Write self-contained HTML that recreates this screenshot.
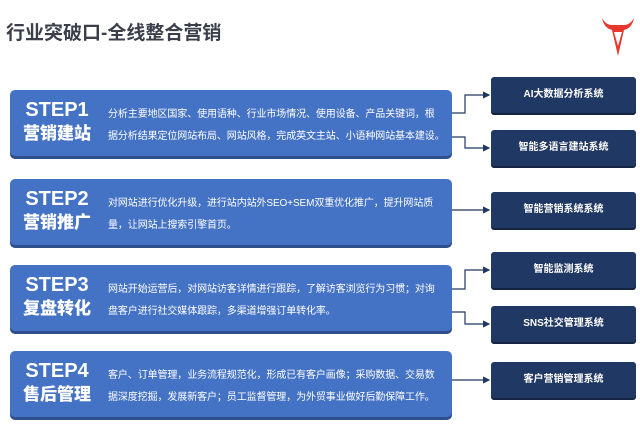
<!DOCTYPE html>
<html><head><meta charset="utf-8"><style>
body{margin:0;width:640px;height:436px;background:#fff;position:relative;overflow:hidden;font-family:"Liberation Sans","Noto Sans CJK SC",sans-serif}
.t{position:absolute;left:6px;top:18px;font-size:19px;font-weight:bold;color:#3a3f4a}
.s{position:absolute;left:10px;width:442px;height:66px;background:#4472c4;border-radius:5px;box-shadow:0 3px 0 #2f4f8c}
.s .h{position:absolute;left:12px;top:8px;width:70px;text-align:center;color:#fff;font-weight:bold;font-size:20px;line-height:24px}
.s .h b{display:block;font-size:17px;line-height:24px}
.s .d{position:absolute;left:98px;top:14px;white-space:nowrap;color:#fff;font-size:10px;line-height:22px;letter-spacing:-0.1px}
.r{position:absolute;left:491px;width:145px;height:36px;background:#203864;border-radius:3px;box-shadow:0 2px 0 #132340;color:#fff;font-size:10px;font-weight:bold;text-align:center;line-height:36px}
</style></head><body>
<div class="t">行业突破口-全线整合营销</div>
<svg style="position:absolute;left:600px;top:16px" width="36" height="42" viewBox="0 0 36 42"><path d="M2 2 Q4 12 12 14 L18 40 L24 14 Q32 12 34 2 Q30 9 24 9 L12 9 Q6 9 2 2Z" fill="#e8372c"/><path d="M14 16 L18 30 L22 16Z" fill="#fff"/></svg>

<div class="s" style="top:90px"><div class="h">STEP1<b>营销建站</b></div><div class="d">分析主要地区国家、使用语种、行业市场情况、使用设备、产品关键词，根<br>据分析结果定位网站布局、网站风格，完成英文主站、小语种网站基本建设。</div></div>
<div class="s" style="top:179px"><div class="h">STEP2<b>营销推广</b></div><div class="d">对网站进行优化升级，进行站内站外SEO+SEM双重优化推广，提升网站质<br>量，让网站上搜索引擎首页。</div></div>
<div class="s" style="top:265px"><div class="h">STEP3<b>复盘转化</b></div><div class="d">网站开始运营后，对网站访客详情进行跟踪，了解访客浏览行为习惯；对询<br>盘客户进行社交媒体跟踪，多渠道增强订单转化率。</div></div>
<div class="s" style="top:351px"><div class="h">STEP4<b>售后管理</b></div><div class="d">客户、订单管理，业务流程规范化，形成已有客户画像；采购数据、交易数<br>据深度挖掘，发展新客户；员工监督管理，为外贸事业做好后勤保障工作。</div></div>

<div class="r" style="top:77px">AI大数据分析系统</div>
<div class="r" style="top:130px">智能多语言建站系统</div>
<div class="r" style="top:192px">智能营销系统系统</div>
<div class="r" style="top:252px">智能监测系统</div>
<div class="r" style="top:306px">SNS社交管理系统</div>
<div class="r" style="top:362px">客户营销管理系统</div>

<svg style="position:absolute;left:0;top:0" width="640" height="436">
<defs><marker id="a" markerWidth="6" markerHeight="6" refX="5" refY="3" orient="auto"><path d="M0 0L6 3L0 6Z" fill="#203864"/></marker></defs>
<g stroke="#203864" stroke-width="1.2" fill="none" marker-end="url(#a)">
<path d="M452 113H465V95H489"/>
<path d="M452 137H465V148H489"/>
<path d="M452 210H489"/>
<path d="M452 289H465V270H489"/>
<path d="M452 312H465V324H489"/>
<path d="M452 380H489"/>
</g></svg>
</body></html>
